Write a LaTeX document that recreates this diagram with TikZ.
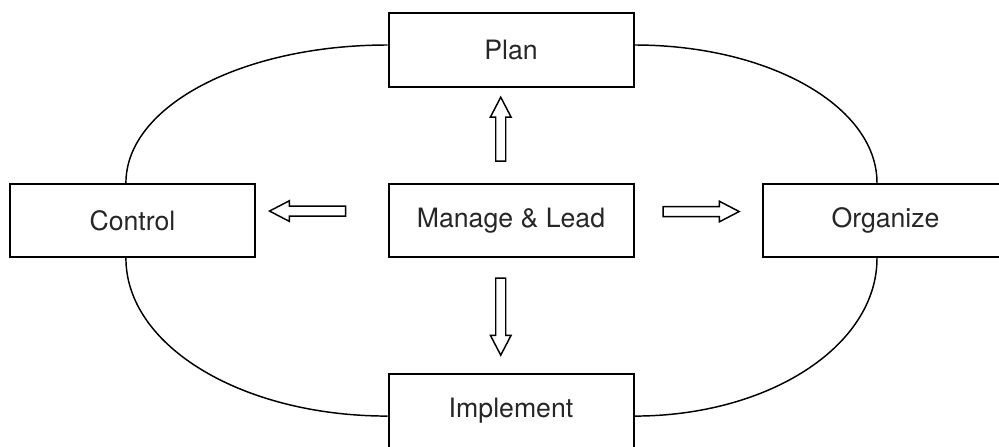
\documentclass[tikz,border=0pt]{standalone}
\usepackage{fontspec}
\setmainfont{TeX Gyre Heros}
\usetikzlibrary{shapes.arrows}

\begin{document}
\begin{tikzpicture}[node distance=128pt,
    stage/.style={draw, line width=1.5pt, minimum width=183.75pt, minimum height=55pt,
                  inner sep=0pt, text=black!85, font=\fontsize{20}{24}\selectfont},
    hollow/.style={draw, single arrow, line width=1.1pt, inner xsep=0pt, inner ysep=3.2pt,
                   single arrow head extend=4pt, single arrow tip angle=55},
    hollowup/.style={hollow, inner xsep=3.2pt, inner ysep=0pt},
    ring/.style={line width=1.1pt}]
            \useasboundingbox (0,0) rectangle (749.25pt,-334.5pt);
            \node (lead) [stage] at (383.25pt,-165.4pt) {Manage \& Lead};
            \node (plan)      [stage, above of=lead, node distance=127.9pt] {Plan};
            \node (control)   [stage, left of=lead,  node distance=283.9pt] {Control};
            \node (organize)  [stage, right of=lead, node distance=280.9pt] {Organize};
            \node (implement) [stage, below of=lead, node distance=142.9pt] {Implement};
            % block arrows out of the centre
            \node (toplan)   [hollowup, shape border rotate=90,  minimum height=48pt,
                              above of=lead, node distance=64.9pt, xshift=-7.7pt] {};
            \node (toimpl)   [hollowup, shape border rotate=270, minimum height=57.75pt,
                              below of=lead, node distance=68.5pt, xshift=-7.7pt] {};
            \node (tocontrol)[hollow, shape border rotate=180, minimum height=57pt,
                              left of=lead, node distance=149pt, yshift=7.1pt] {};
            \node (toorg)    [hollow, minimum height=57pt,
                              right of=lead, node distance=139pt, yshift=6.75pt] {};
            % the cycle
            \draw[ring] ([yshift=3.75pt]plan.west) .. controls +(-109pt,0) and +(0,57.6pt) .. ([xshift=-4.9pt]control.north);
            \draw[ring] ([yshift=3.75pt]plan.east) .. controls +(100.6pt,0) and +(0,57.6pt) .. ([xshift=-6.4pt]organize.north);
            \draw[ring] ([xshift=-4.9pt]control.south) .. controls +(0,-65.9pt) and +(-109pt,0) .. ([yshift=-3.75pt]implement.west);
            \draw[ring] ([xshift=-6.4pt]organize.south) .. controls +(0,-65.9pt) and +(100.6pt,0) .. ([yshift=-3.75pt]implement.east);
        \end{tikzpicture}
\end{document}
